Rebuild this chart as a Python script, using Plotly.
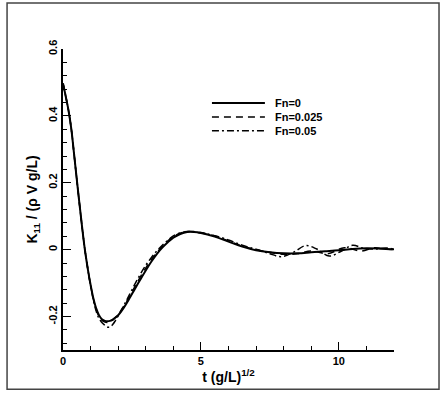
import plotly.graph_objects as go

# ---- data ----
t_fn0 = [0, 0.1, 0.2, 0.3, 0.4, 0.5, 0.6, 0.7, 0.8, 0.9, 1.0, 1.1, 1.2, 1.3, 1.4, 1.5, 1.6, 1.7, 1.8, 1.9,
         2.0, 2.2, 2.4, 2.6, 2.8, 3.0, 3.2, 3.4, 3.6, 3.8, 4.0, 4.25, 4.5, 4.75, 5.0, 5.5, 6.0, 6.5, 7.0,
         7.5, 8.0, 8.5, 9.0, 9.5, 10.0, 10.5, 11.0, 11.5, 12.0]
k_fn0 = [0.497, 0.458, 0.416, 0.362, 0.287, 0.210, 0.135, 0.062, -0.004, -0.058, -0.105, -0.145, -0.175,
         -0.195, -0.207, -0.212, -0.214, -0.213, -0.209, -0.203, -0.196, -0.174, -0.147, -0.118, -0.090,
         -0.062, -0.036, -0.013, 0.006, 0.022, 0.036, 0.047, 0.053, 0.053, 0.050, 0.039, 0.024, 0.009,
         -0.002, -0.008, -0.011, -0.011, -0.008, -0.005, -0.002, 0.002, 0.004, 0.003, 0.001]

t_fn025 = [0, 0.1, 0.2, 0.3, 0.4, 0.5, 0.6, 0.7, 0.8, 0.9, 1.0, 1.1, 1.2, 1.3, 1.4, 1.5, 1.6, 1.7, 1.8, 1.9,
           2.0, 2.2, 2.4, 2.6, 2.8, 3.0, 3.2, 3.4, 3.6, 3.8, 4.0, 4.25, 4.5, 4.75, 5.0, 5.5, 6.0, 6.5, 7.0,
           7.5, 8.0, 8.5, 9.0, 9.6, 10.2, 10.8, 11.3, 11.7, 12.0]
k_fn025 = [0.497, 0.458, 0.416, 0.362, 0.287, 0.210, 0.135, 0.062, -0.004, -0.058, -0.106, -0.147, -0.178,
           -0.199, -0.210, -0.216, -0.218, -0.216, -0.211, -0.203, -0.194, -0.170, -0.141, -0.111, -0.082,
           -0.055, -0.030, -0.009, 0.010, 0.026, 0.039, 0.049, 0.054, 0.054, 0.051, 0.041, 0.026, 0.011,
           0.000, -0.008, -0.014, -0.012, -0.004, -0.012, 0.006, -0.004, 0.006, 0.002, 0.000]

t_fn05 = [0, 0.1, 0.2, 0.3, 0.4, 0.5, 0.6, 0.7, 0.8, 0.9, 1.0, 1.1, 1.2, 1.3, 1.4, 1.5, 1.6, 1.7, 1.8, 1.9,
          2.0, 2.2, 2.4, 2.6, 2.8, 3.0, 3.2, 3.4, 3.6, 3.8, 4.0, 4.25, 4.5, 4.75, 5.0, 5.5, 6.0, 6.5, 7.0,
          7.5, 7.9, 8.35, 8.8, 9.2, 9.65, 10.1, 10.5, 10.9, 11.3, 11.7, 12.0]
k_fn05 = [0.497, 0.458, 0.416, 0.362, 0.287, 0.210, 0.135, 0.062, -0.004, -0.059, -0.108, -0.150, -0.183,
          -0.205, -0.217, -0.225, -0.231, -0.231, -0.224, -0.212, -0.198, -0.168, -0.136, -0.104, -0.074,
          -0.047, -0.024, -0.004, 0.013, 0.028, 0.041, 0.050, 0.054, 0.053, 0.050, 0.042, 0.029, 0.013,
          0.001, -0.012, -0.021, -0.008, 0.012, 0.002, -0.019, -0.004, 0.013, 0.004, 0.002, 0.005, 0.002]

series_names = ["Fn=0", "Fn=0.025", "Fn=0.05"]
x_ticks = [0, 5, 10]
y_ticks = [-0.2, 0, 0.2, 0.4, 0.6]
y_ticklabels = ["-0.2", "0", "0.2", "0.4", "0.6"]

FONT = "Liberation Sans, Arial, Helvetica, sans-serif"
dashes = ["solid", "7px,5px", "7px,3px,2px,3px"]
widths = [2.0, 1.5, 1.5]

fig = go.Figure()
for (tt, kk), name, d, w in zip([(t_fn0, k_fn0), (t_fn025, k_fn025), (t_fn05, k_fn05)],
                                series_names, dashes, widths):
    fig.add_trace(go.Scatter(x=tt, y=kk, mode="lines", name=name,
                             line=dict(color="black", width=w, dash=d, shape="spline", smoothing=1.0),
                             showlegend=False))

# manual legend (long line samples like the reference)
leg_y = [0.821, 0.774, 0.728]
for name, d, w, yy in zip(series_names, dashes, widths, leg_y):
    fig.add_shape(type="line", xref="paper", yref="paper", x0=0.450, x1=0.610, y0=yy, y1=yy,
                  line=dict(color="black", width=w, dash=d))
    fig.add_annotation(xref="paper", yref="paper", x=0.633, y=yy, text=name, showarrow=False,
                       xanchor="left", yanchor="middle",
                       font=dict(family=FONT, size=11, color="black", weight="bold"))

# outer frame
fig.add_shape(type="rect", xref="paper", yref="paper", x0=-0.169, x1=1.136, y0=-0.130, y1=1.153,
              line=dict(color="#444444", width=1.5), layer="below")

fig.update_layout(
    width=443, height=394,
    margin=dict(l=63, r=49, t=49, b=44),
    paper_bgcolor="white", plot_bgcolor="white",
    font=dict(family=FONT, color="black"),
    xaxis=dict(range=[0, 12], tickvals=x_ticks, ticktext=[str(v) for v in x_ticks],
               ticks="inside", ticklen=8, tickwidth=1.2, tickcolor="black",
               minor=dict(ticks="inside", ticklen=4, tickwidth=1.2, tickcolor="black", tick0=0, dtick=1),
               showline=True, linecolor="black", linewidth=1.5, showgrid=False, zeroline=False,
               tickfont=dict(family=FONT, size=11, weight="bold"),
               title=dict(text="t (g/L)<sup>1/2</sup>", standoff=0,
                          font=dict(family=FONT, size=14, weight="bold"))),
    yaxis=dict(range=[-0.3, 0.6], tickvals=y_ticks, ticktext=y_ticklabels, tickangle=-90,
               ticks="inside", ticklen=8, tickwidth=1.2, tickcolor="black",
               minor=dict(ticks="inside", ticklen=4, tickwidth=1.2, tickcolor="black", tick0=0, dtick=0.04),
               showline=True, linecolor="black", linewidth=1.5, showgrid=False, zeroline=False,
               tickfont=dict(family=FONT, size=11, weight="bold"),
               title=dict(text="K<sub>11</sub> / (ρ V g/L)", standoff=6,
                          font=dict(family=FONT, size=14, weight="bold"))),
)

fig.write_html("out.html", config={"displayModeBar": False},
               post_script="document.body.style.margin='0px';")
